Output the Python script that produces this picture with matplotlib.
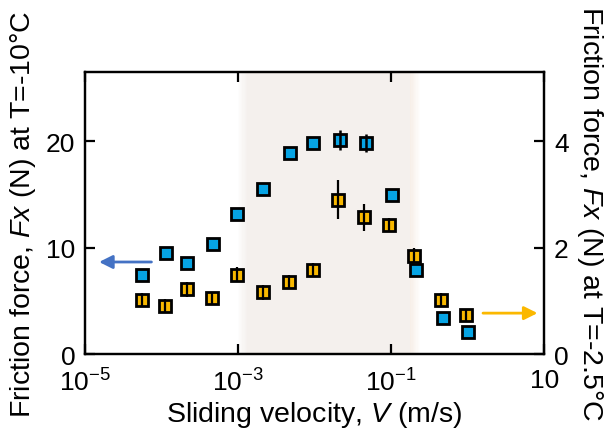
import matplotlib
matplotlib.use("Agg")
import matplotlib.pyplot as plt
import numpy as np

plt.rcParams['font.family'] = ['Liberation Sans', 'DejaVu Sans']
plt.rcParams['mathtext.fontset'] = 'custom'
plt.rcParams['mathtext.rm'] = 'Liberation Sans'
plt.rcParams['mathtext.it'] = 'Liberation Sans:italic'
plt.rcParams['mathtext.default'] = 'regular'

# T = -10 C (left axis, blue)
v_cold = [5.5e-5, 1.13e-4, 2.15e-4, 4.7e-4, 9.8e-4, 2.1e-3, 4.7e-3, 9.6e-3, 2.15e-2, 4.7e-2, 0.104, 0.21, 0.47, 1.0]
f_cold = [7.45, 9.5, 8.6, 10.3, 13.2, 15.5, 18.9, 19.8, 20.1, 19.8, 14.9, 7.9, 3.4, 2.1]
e_cold = [0, 0, 0, 0, 0, 0, 0, 0, 0.9, 0.85, 0, 0, 0, 0]

# T = -2.5 C (right axis, orange)
v_warm = [5.5e-5, 1.1e-4, 2.15e-4, 4.6e-4, 9.8e-4, 2.1e-3, 4.6e-3, 9.6e-3, 2.0e-2, 4.4e-2, 9.5e-2, 0.2, 0.45, 0.95]
f_warm = [1.02, 0.91, 1.22, 1.05, 1.49, 1.16, 1.36, 1.58, 2.9, 2.57, 2.43, 1.85, 1.02, 0.73]
e_warm = [0.12, 0.12, 0.14, 0.12, 0.14, 0.14, 0.12, 0.14, 0.37, 0.25, 0.12, 0.14, 0.12, 0.12]

xticks = [1e-5, 1e-3, 1e-1, 10]
xticklabels = ['$10^{-5}$', '$10^{-3}$', '$10^{-1}$', '10']

blue = '#06a4e4'
orange = '#f8b800'

fig = plt.figure(figsize=(6.08, 4.31), dpi=100)
ax = fig.add_axes([0.140, 0.176, 0.755, 0.655])
ax2 = ax.twinx()

# shaded band with soft edges
shade = '#f4f0ed'
ax.axvspan(1.3e-3, 0.177, color=shade, lw=0, zorder=0)
n = 8
for k in range(n):
    a = (k + 1) / (n + 1)
    lo = 1e-3 * (1.3 ** (k / n))
    hi = 1e-3 * (1.3 ** ((k + 1) / n))
    ax.axvspan(lo, hi, color=shade, alpha=a, lw=0, zorder=0)
    lo = 0.177 * (1.356 ** (k / n))
    hi = 0.177 * (1.356 ** ((k + 1) / n))
    ax.axvspan(lo, hi, color='#f7eee6', alpha=1 - a, lw=0, zorder=0)

ax.errorbar(v_cold, f_cold, yerr=e_cold, fmt='none', ecolor='black', elinewidth=1.8, capsize=0, zorder=4)
ax.plot(v_cold, f_cold, 's', ms=8, mfc=blue, mec='black', mew=2, zorder=3)

ax2.plot(v_warm, f_warm, 's', ms=8.5, mfc=orange, mec='black', mew=2, zorder=3)
ax2.errorbar(v_warm, f_warm, yerr=e_warm, fmt='none', ecolor='black', elinewidth=1.6, capsize=0, zorder=4)

ax.set_xscale('log')
ax.set_xlim(1e-5, 10)
ax.set_ylim(0, 26.5)
ax2.set_ylim(0, 5.3)
ax.set_xticks(xticks)
ax.set_xticklabels(xticklabels)
ax.minorticks_off()
ax.set_yticks([0, 10, 20])
ax2.set_yticks([0, 2, 4])

for a in (ax, ax2):
    for s in a.spines.values():
        s.set_linewidth(1.6)
    a.tick_params(direction='in', length=7, width=1.6, labelsize=19, pad=7)
ax.tick_params(axis='x', top=True, pad=10)
ax.tick_params(axis='y', right=False)
ax2.tick_params(axis='y', left=False)

ax.set_xlabel('Sliding velocity, $\\mathit{V}$ (m/s)', fontsize=20.5, labelpad=3)
ax.set_ylabel('Friction force, $\\mathit{Fx}$ (N) at T=-10°C', fontsize=20.5, labelpad=6)
ax2.set_ylabel('Friction force, $\\mathit{Fx}$ (N) at T=-2.5°C', fontsize=20.5, rotation=270, labelpad=26)

ax.annotate('', xy=(1.4e-5, 8.65), xytext=(8e-5, 8.65),
            arrowprops=dict(arrowstyle='-|>', color='#4472c4', lw=2, mutation_scale=20))
ax2.annotate('', xy=(8.9, 0.77), xytext=(1.46, 0.77),
             arrowprops=dict(arrowstyle='-|>', color='#fbb800', lw=2, mutation_scale=20))

fig.savefig('out.png', dpi=100)
